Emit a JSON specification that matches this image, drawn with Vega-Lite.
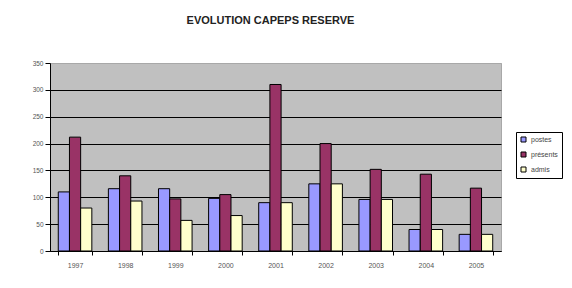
{
  "$schema": "https://vega.github.io/schema/vega-lite/v6.json",
  "autosize": "none",
  "width": 451,
  "height": 188,
  "padding": {"left": 50, "top": 63, "right": 71, "bottom": 37},
  "background": "white",
  "title": {
    "text": "EVOLUTION CAPEPS RESERVE",
    "anchor": "middle",
    "frame": "group",
    "dx": -5,
    "offset": 34,
    "font": "Liberation Sans",
    "fontSize": 11,
    "fontWeight": "bold",
    "color": "#222222"
  },
  "data": {
    "values": [
      {"annee": "1997", "serie": "postes", "valeur": 110},
      {"annee": "1997", "serie": "présents", "valeur": 212},
      {"annee": "1997", "serie": "admis", "valeur": 80},
      {"annee": "1998", "serie": "postes", "valeur": 116},
      {"annee": "1998", "serie": "présents", "valeur": 140},
      {"annee": "1998", "serie": "admis", "valeur": 93},
      {"annee": "1999", "serie": "postes", "valeur": 116},
      {"annee": "1999", "serie": "présents", "valeur": 97},
      {"annee": "1999", "serie": "admis", "valeur": 57},
      {"annee": "2000", "serie": "postes", "valeur": 98},
      {"annee": "2000", "serie": "présents", "valeur": 105},
      {"annee": "2000", "serie": "admis", "valeur": 66},
      {"annee": "2001", "serie": "postes", "valeur": 90},
      {"annee": "2001", "serie": "présents", "valeur": 310},
      {"annee": "2001", "serie": "admis", "valeur": 90},
      {"annee": "2002", "serie": "postes", "valeur": 125},
      {"annee": "2002", "serie": "présents", "valeur": 200},
      {"annee": "2002", "serie": "admis", "valeur": 125},
      {"annee": "2003", "serie": "postes", "valeur": 96},
      {"annee": "2003", "serie": "présents", "valeur": 152},
      {"annee": "2003", "serie": "admis", "valeur": 96},
      {"annee": "2004", "serie": "postes", "valeur": 40},
      {"annee": "2004", "serie": "présents", "valeur": 143},
      {"annee": "2004", "serie": "admis", "valeur": 40},
      {"annee": "2005", "serie": "postes", "valeur": 31},
      {"annee": "2005", "serie": "présents", "valeur": 117},
      {"annee": "2005", "serie": "admis", "valeur": 31}
    ]
  },
  "mark": {"type": "bar", "stroke": "black", "strokeWidth": 1},
  "encoding": {
    "x": {
      "field": "annee",
      "type": "nominal",
      "scale": {"paddingInner": 0.33, "paddingOuter": 0.165},
      "axis": {
        "title": null,
        "labelAngle": 0,
        "tickBand": "extent",
        "tickSize": 4,
        "tickColor": "black",
        "domainColor": "black",
        "labelFont": "Liberation Sans",
        "labelFontSize": 7,
        "labelColor": "#555555",
        "labelPadding": 6,
        "grid": false
      }
    },
    "xOffset": {
      "field": "serie",
      "sort": ["postes", "présents", "admis"],
      "scale": {"paddingInner": 0, "paddingOuter": 0}
    },
    "y": {
      "field": "valeur",
      "type": "quantitative",
      "scale": {"domain": [0, 350], "nice": false},
      "axis": {
        "title": null,
        "values": [0, 50, 100, 150, 200, 250, 300, 350],
        "tickSize": 5,
        "tickColor": "black",
        "domainColor": "black",
        "labelFont": "Liberation Sans",
        "labelFontSize": 6.5,
        "labelColor": "#555555",
        "labelPadding": 2,
        "grid": true,
        "gridColor": {"condition": {"test": "datum.value == 350", "value": "#a8a8a8"}, "value": "black"},
        "gridOpacity": 1,
        "gridWidth": 1
      }
    },
    "color": {
      "field": "serie",
      "type": "nominal",
      "scale": {
        "domain": ["postes", "présents", "admis"],
        "range": ["#9999FF", "#993366", "#FFFFCC"]
      },
      "legend": {
        "title": null,
        "orient": "none",
        "legendX": 466,
        "legendY": 69,
        "strokeColor": "black",
        "fillColor": "white",
        "padding": 4,
        "symbolType": "square",
        "symbolSize": 25,
        "symbolStrokeColor": "black",
        "symbolStrokeWidth": 1,
        "symbolOpacity": 1,
        "labelFont": "Liberation Sans",
        "labelFontSize": 7,
        "labelColor": "#444444",
        "rowPadding": 6,
        "labelOffset": 4
      }
    }
  },
  "config": {
    "view": {"fill": "#C0C0C0", "stroke": "#a8a8a8", "strokeWidth": 1}
  }
}
